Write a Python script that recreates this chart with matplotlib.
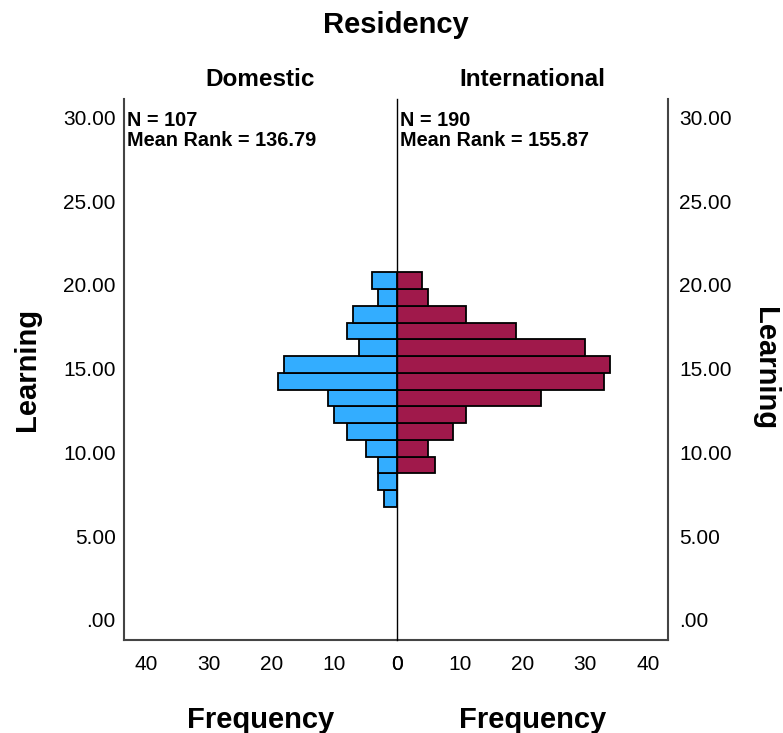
import matplotlib
matplotlib.use("Agg")
import matplotlib.pyplot as plt
import numpy as np

# ---- data ----
bin_lower = [6.75, 7.75, 8.75, 9.75, 10.75, 11.75, 12.75, 13.75, 14.75, 15.75, 16.75, 17.75, 18.75, 19.75]
bin_width = 1.0
domestic_counts = [2, 3, 3, 5, 8, 10, 11, 19, 18, 6, 8, 7, 3, 4]
international_counts = [0, 0, 6, 5, 9, 11, 23, 33, 34, 30, 19, 11, 5, 4]
groups = ["Domestic", "International"]
group_stats = ["N = 107\nMean Rank = 136.79", "N = 190\nMean Rank = 155.87"]
y_ticks = [0, 5, 10, 15, 20, 25, 30]
y_tick_labels = [".00", "5.00", "10.00", "15.00", "20.00", "25.00", "30.00"]
x_ticks = [0, 10, 20, 30, 40]
x_tick_labels = ["0", "10", "20", "30", "40"]

blue = "#33adff"
red = "#a0194b"
font = "Liberation Sans"
plt.rcParams["font.family"] = [font, "DejaVu Sans"]

W, H = 783, 733
fig = plt.figure(figsize=(W / 100, H / 100), dpi=100)

x0, xm, x1 = 124, 397, 668
ytop, ybot = 99, 640
axL = fig.add_axes([x0 / W, 1 - ybot / H, (xm - x0) / W, (ybot - ytop) / H])
axR = fig.add_axes([xm / W, 1 - ybot / H, (x1 - xm) / W, (ybot - ytop) / H])

ylim = (-1.2, 31.1)
axL.barh(bin_lower, domestic_counts, height=bin_width, align="edge",
         color=blue, edgecolor="black", linewidth=1.3)
axR.barh(bin_lower, international_counts, height=bin_width, align="edge",
         color=red, edgecolor="black", linewidth=1.3)

axL.set_xlim(43.5, 0)
axR.set_xlim(0, 43.2)
for ax in (axL, axR):
    ax.set_ylim(*ylim)
    ax.set_xticks(x_ticks)
    ax.set_xticklabels(x_tick_labels, fontsize=15)
    ax.set_yticks(y_ticks)
    ax.tick_params(length=0)
    ax.tick_params(axis="x", pad=11)
    ax.spines["top"].set_visible(False)
    ax.set_xlabel("Frequency", fontsize=21, fontweight="bold", labelpad=23)

axL.set_yticklabels(y_tick_labels, fontsize=15)
axL.tick_params(axis="y", pad=6)
axR.yaxis.tick_right()
axR.set_yticklabels(y_tick_labels, fontsize=15)
axR.tick_params(axis="y", pad=8)

axL.spines["left"].set_color("#444444")
axL.spines["left"].set_linewidth(1.5)
axL.spines["bottom"].set_color("#444444")
axL.spines["bottom"].set_linewidth(1.5)
axL.spines["right"].set_visible(False)
axR.spines["left"].set_color("black")
axR.spines["left"].set_linewidth(1.0)
axR.spines["left"].set_zorder(5)
axR.spines["right"].set_color("#444444")
axR.spines["right"].set_linewidth(1.5)
axR.spines["bottom"].set_color("#444444")
axR.spines["bottom"].set_linewidth(1.5)

for ax, g, s in zip((axL, axR), groups, group_stats):
    ax.text(0.012, 0.978, s, transform=ax.transAxes, ha="left", va="top",
            fontsize=14.3, fontweight="bold", linespacing=1.1)
    ax.set_title(g, fontsize=17.5, fontweight="bold", pad=9)

axL.set_ylabel("Learning", fontsize=21, fontweight="bold", labelpad=16)
fig.text(765 / W, 1 - 369 / H, "Learning", rotation=-90, ha="center", va="center",
         fontsize=21, fontweight="bold")

fig.text(396 / W, 1 - 25 / H, "Residency", ha="center", va="center",
         fontsize=21, fontweight="bold")

fig.savefig("out.png", dpi=100)
